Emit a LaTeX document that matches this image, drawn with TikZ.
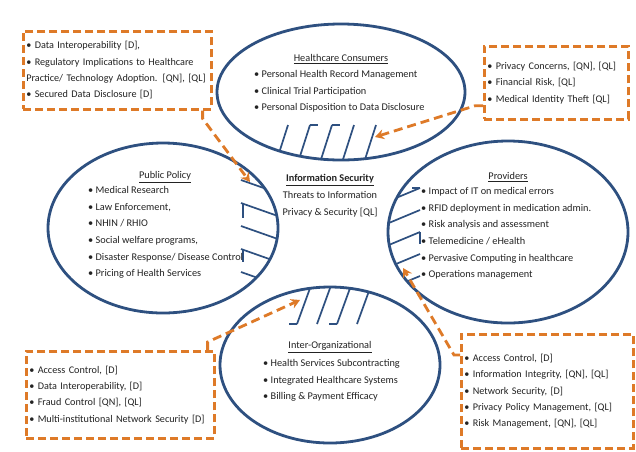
\documentclass[tikz,border=0pt]{standalone}
\usepackage{fontspec}
\setmainfont{Carlito}
\usetikzlibrary{arrows.meta,shapes.geometric}
\definecolor{eblue}{RGB}{46,80,128}
\definecolor{dorange}{RGB}{222,122,40}
\definecolor{txt}{RGB}{35,35,35}
\begin{document}
\begin{tikzpicture}[x=1pt,y=-1pt,
  ell/.style={draw=eblue,line width=2.8pt,ellipse,inner sep=0pt},
  hatch/.style={draw=eblue,line width=1.7pt},
  lbl/.style={text=txt,font=\fontsize{10.3}{16.7}\selectfont,inner sep=0pt},
  ttl/.style={lbl},
  lst/.style={lbl,align=left,anchor=north west},
  box/.style={draw=dorange,line width=2.6pt,dash pattern=on 8pt off 4pt,anchor=north west,
    inner xsep=3pt,inner ysep=0pt,align=left,text=txt,font=\fontsize{10.2}{16.4}\selectfont},
  conn/.style={draw=dorange,line width=2.8pt,dash pattern=on 9pt off 5pt,
    -{Stealth[length=9pt,width=10pt,inset=3pt]}}
]
\useasboundingbox (0,0) rectangle (636,451);
\fill[white] (0,0) rectangle (636,451);

% ellipses
\node[ell,minimum width=248pt,minimum height=136pt] (hc) at (341,92) {};
\node[ell,minimum width=230pt,minimum height=170pt] (pp) at (163,228) {};
\node[ell,minimum width=240pt,minimum height=182pt] (pr) at (508,232) {};
\node[ell,minimum width=220pt,minimum height=156pt] (io) at (330,365) {};

% hatching
\begin{scope}
\clip (hc.center) ellipse [x radius=124pt,y radius=68pt];
\foreach \x in {282,304,326,348,370} \draw[hatch] (\x-10,175) -- (\x+6,125);
\draw[hatch] (310,125) -- (318,125) (332,125) -- (340,125);
\end{scope}
\begin{scope}
\clip (pp.center) ellipse [x radius=115pt,y radius=85pt];
\foreach \y in {180,203,226,249,272} \draw[hatch] (241,\y) -- (292,\y+18);
\draw[hatch] (243,203) -- (243,218) (243,249) -- (243,262);
\end{scope}
\begin{scope}
\clip (pr.center) ellipse [x radius=120pt,y radius=91pt];
\foreach \y in {188,210,232,254,276} \draw[hatch] (372,\y+20) -- (420,\y);
\draw[hatch] (412,188) -- (420,188) (420,232) -- (420,244);
\end{scope}
\begin{scope}
\clip (io.center) ellipse [x radius=110pt,y radius=78pt];
\foreach \x in {305,325,345,365} \draw[hatch] (\x-8,324) -- (\x+8,280);
\draw[hatch] (297,324) -- (289,324) (337,324) -- (329,324);
\end{scope}

% ellipse texts
\node[ttl] (hct) at (341,59) {\underline{Healthcare Consumers}};
\node[lst] (hcl) at (254,70) {• Personal Health Record Management\\• Clinical Trial Participation\\• Personal Disposition to Data Disclosure};

\node[ttl] (ppt) at (165,177) {\underline{Public Policy}};
\node[lst] (ppl) at (88,186) {• Medical Research\\• Law Enforcement,\\• NHIN / RHIO\\• Social welfare programs,\\• Disaster Response/ Disease Control\\• Pricing of Health Services};

\node[ttl] (prt) at (508,177) {\underline{Providers}};
\node[lst] (prl) at (421,187) {• Impact of IT on medical errors\\• RFID deployment in medication admin.\\• Risk analysis and assessment\\• Telemedicine / eHealth\\• Pervasive Computing in healthcare\\• Operations management};

\node[ttl] (ist) at (330,180) {\underline{\textbf{Information Security}}};
\node[lbl,align=center,anchor=north] (isl) at (330,191) {Threats to Information\\Privacy \& Security [QL]};

\node[ttl] (iot) at (330,347) {\underline{Inter-Organizational}};
\node[lst] (iol) at (263,359) {• Health Services Subcontracting\\• Integrated Healthcare Systems\\• Billing \& Payment Efficacy};

% boxes
\node[box,minimum width=188pt,minimum height=78pt,text width=182pt] (tlb) at (22,30)
  {• Data Interoperability [D],\\• Regulatory Implications to Healthcare\\\mbox{Practice/ Technology Adoption. [QN], [QL]}\\• Secured Data Disclosure [D]};
\node[box,minimum width=144pt,minimum height=73pt,text width=138pt] (trb) at (483,45)
  {• Privacy Concerns, [QN], [QL]\\• Financial Risk, [QL]\\• Medical Identity Theft [QL]};
\node[box,minimum width=188pt,minimum height=87pt,text width=182pt] (blb) at (25,350)
  {• Access Control, [D]\\• Data Interoperability, [D]\\• Fraud Control [QN], [QL]\\\mbox{• Multi-institutional Network Security [D]}};
\node[box,minimum width=172pt,minimum height=114pt,text width=166pt] (brb) at (460,333)
  {• Access Control, [D]\\• Information Integrity, [QN], [QL]\\• Network Security, [D]\\• Privacy Policy Management, [QL]\\• Risk Management, [QN], [QL]};

% connectors
\coordinate (t1) at (250,182);
\coordinate (t2) at (375,137);
\coordinate (t3) at (300,300);
\coordinate (t4) at (403,268);
\draw[conn] ([xshift=-10pt]tlb.south east) -- ++(0,8) -- (t1);
\draw[conn] ([yshift=-23pt]trb.west) -- ++(-8,0) -- (t2);
\draw[conn] ([xshift=-8pt]blb.north east) -- ++(0,-8) -- (t3);
\draw[conn] ([yshift=-22pt]brb.north west) -- ++(-6,0) -- (t4);
\end{tikzpicture}
\end{document}
